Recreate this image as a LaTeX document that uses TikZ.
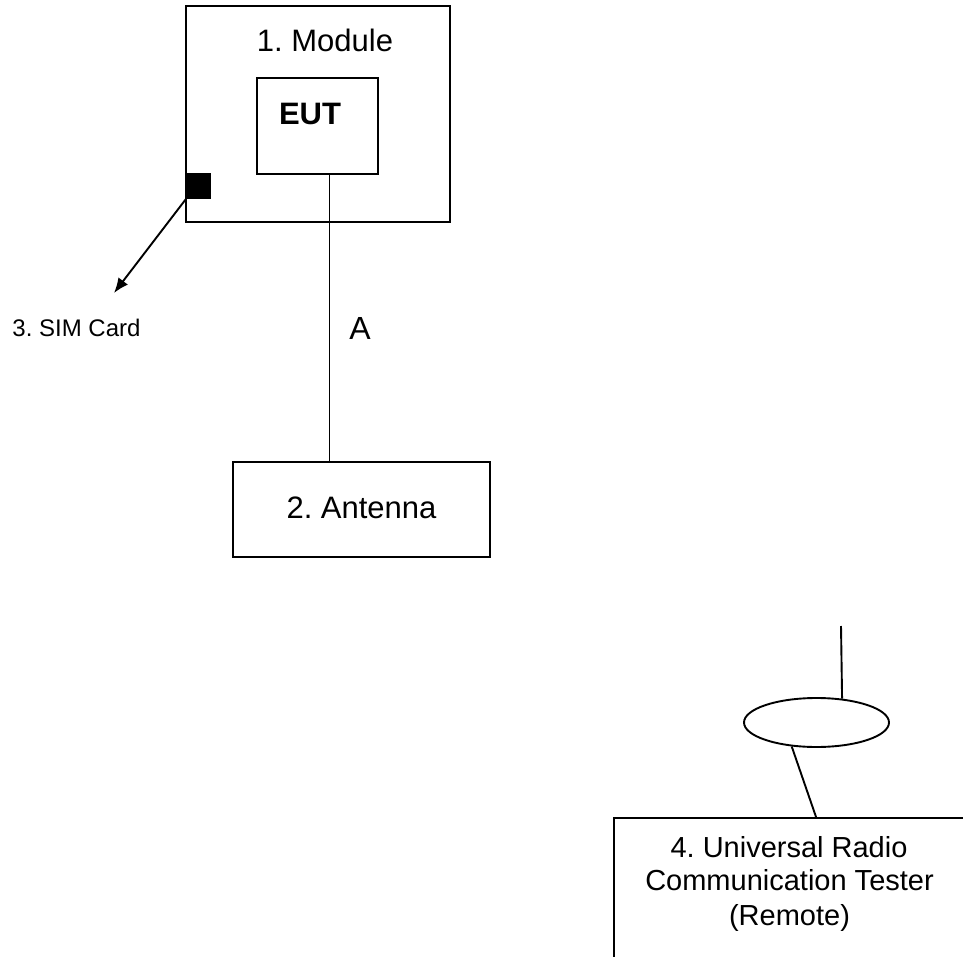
\documentclass[tikz,border=0pt]{standalone}
\usepackage{fontspec}
\setmainfont{Liberation Sans}
\frenchspacing
\usetikzlibrary{shapes.geometric,arrows.meta}
\tikzset{
  ln/.style={line width=1.9pt, black},
  boxnode/.style={draw, ln, rectangle, inner sep=0pt},
  txt/.style={anchor=base, inner sep=0pt},
}
\begin{document}
\begin{tikzpicture}[x=1pt,y=-1pt]
\useasboundingbox (0,0) rectangle (963,957);
\fill[white] (0,0) rectangle (963,957);
% Module
\node[boxnode, minimum width=264.3pt, minimum height=215.7pt] (module) at (317.85,113.85) {};
\node[txt, font=\fontsize{31}{36}\selectfont] (moduletxt) at (325,52) {1. Module};
% EUT
\node[boxnode, minimum width=121pt, minimum height=96pt] (eut) at (317.5,126) {};
\node[txt, font=\fontsize{31}{36}\selectfont\bfseries] (euttxt) at (310,125) {EUT};
% SIM card slot
\node[fill=black, draw=none, minimum width=25pt, minimum height=26pt, inner sep=0pt] (sim) at (198.5,186) {};
\coordinate (simtip) at (114,293);
\draw[ln, -{Latex[length=15pt,width=12pt]}] (sim.south west) -- (simtip);
\node[txt, font=\fontsize{24}{28}\selectfont] (simtxt) at (76.5,336) {3. SIM Card};
% Antenna
\node[boxnode, minimum width=257pt, minimum height=95pt] (ant) at (361.5,509.5) {};
\node[txt, font=\fontsize{31}{36}\selectfont] (anttxt) at (361.5,518) {2. Antenna};
\coordinate (ax) at (329.5,0);
\draw[ln] (eut.south -| ax) -- (ant.north -| ax);
\node[txt, font=\fontsize{32}{36}\selectfont] (atxt) at (360,339) {A};
% Remote tester antenna
\node[draw, ln, ellipse, minimum width=145pt, minimum height=49pt, inner sep=0pt] (ell) at (816.5,722.5) {};
\coordinate (rtop) at (841,626);
\draw[ln] (rtop) -- (ell.43.3);
% Tester box (partly outside the picture)
\begin{scope}
\clip (0,0) rectangle (963,957);
\node[boxnode, minimum width=500pt, minimum height=300pt] (tester) at (864,968) {};
\end{scope}
\coordinate (tconn) at ([xshift=203pt]tester.north west);
\draw[ln] (ell.-136.7) -- (tconn);
\node[txt, font=\fontsize{29}{34}\selectfont] (t1) at (789,857) {4. Universal Radio};
\node[txt, font=\fontsize{29}{34}\selectfont] (t2) at (789.5,890) {Communication Tester};
\node[txt, font=\fontsize{29}{34}\selectfont] (t3) at (789.5,925) {(Remote)};
\end{tikzpicture}
\end{document}
